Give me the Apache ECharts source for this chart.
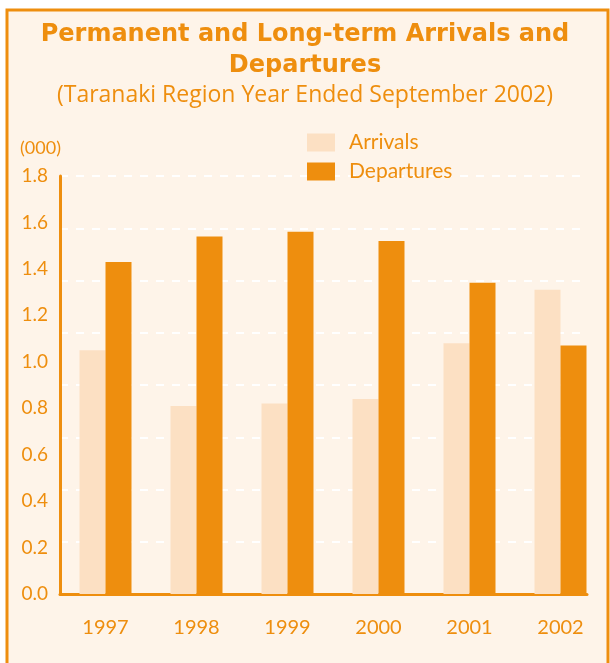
<!DOCTYPE html>
<html><head><meta charset="utf-8">
<script src="https://cdn.jsdelivr.net/npm/echarts@6/dist/echarts.min.js"></script>
<style>html,body{margin:0;padding:0;background:#fff}#c{width:610px;height:663px}</style>
</head><body><div id="c"></div>
<script>
const categories = ['1997','1998','1999','2000','2001','2002'];
const arrivals = [1.05, 0.81, 0.82, 0.84, 1.08, 1.31];
const departures = [1.43, 1.54, 1.56, 1.52, 1.34, 1.07];
const yTicks = ['0.0','0.2','0.4','0.6','0.8','1.0','1.2','1.4','1.6','1.8'];

const ORANGE = '#EE8E0E';
const LIGHT = '#FCE0C3';
const FONT = 'Lato, "Open Sans", sans-serif';
const chart = echarts.init(document.getElementById('c'));
chart.setOption({
  backgroundColor: '#fff',
  animation: false,
  graphic: [
    {type:'rect', z:-10, shape:{x:7, y:10, width:601, height:670}, style:{fill:'#FEF4E9', stroke:ORANGE, lineWidth:3}},
    {type:'text', left:'center', top:19, style:{text:'Permanent and Long-term Arrivals and\nDepartures', fill:ORANGE, font:'bold 24px "DejaVu Sans", sans-serif', textAlign:'center', lineHeight:31}},
    {type:'text', left:'center', top:84, style:{text:'(Taranaki Region Year Ended September 2002)', fill:ORANGE, font:'23px "Open Sans", sans-serif', textAlign:'center'}},
    {type:'text', left:20, top:139, style:{text:'(000)', fill:ORANGE, font:'18px ' + FONT}}
  ],
  legend: {
    orient: 'vertical', left: 302, top: 127, itemWidth: 28, itemHeight: 18, itemGap: 8, icon: 'rect',
    textStyle: {color: ORANGE, fontSize: 21, fontFamily: FONT, padding:[0,0,0,9]},
    data: ['Arrivals','Departures']
  },
  grid: [
    {left: 60, right: 4, top: 176, bottom: 69},
    {left: 60, right: 23, top: 176, bottom: 69}
  ],
  xAxis: [{
    type: 'category', data: categories, gridIndex: 0,
    axisLine: {show: false},
    axisTick: {show: false},
    axisLabel: {color: ORANGE, fontSize: 20, fontFamily: FONT, margin: 24}
  }, {
    type: 'category', data: categories, gridIndex: 1,
    axisLine: {show: true, lineStyle: {color: ORANGE, width: 3}},
    axisTick: {show: false}, axisLabel: {show: false}
  }],
  yAxis: [{
    type: 'value', min: 0, max: 1.8, interval: 0.2, gridIndex: 0,
    axisLine: {show: true, lineStyle: {color: ORANGE, width: 3}},
    axisTick: {show: false},
    splitLine: {show: false},
    axisLabel: {color: ORANGE, fontSize: 19, fontFamily: FONT, margin: 12,
      formatter: v => yTicks[Math.round(v / 0.2)]}
  }, {
    type: 'value', min: 0, max: 8, interval: 1, gridIndex: 1,
    axisLine: {show: false}, axisTick: {show: false}, axisLabel: {show: false},
    splitLine: {show: true, lineStyle: {color: '#ffffff', width: 2, type: [8, 8]}}
  }],
  series: [
    {name: 'Arrivals', type: 'bar', xAxisIndex: 0, yAxisIndex: 0, data: arrivals, barWidth: 26, barGap: '0%', itemStyle: {color: LIGHT}, z: 3},
    {name: 'Departures', type: 'bar', xAxisIndex: 0, yAxisIndex: 0, data: departures, barWidth: 26, barGap: '0%', itemStyle: {color: ORANGE}, z: 3}
  ]
});
</script></body></html>
